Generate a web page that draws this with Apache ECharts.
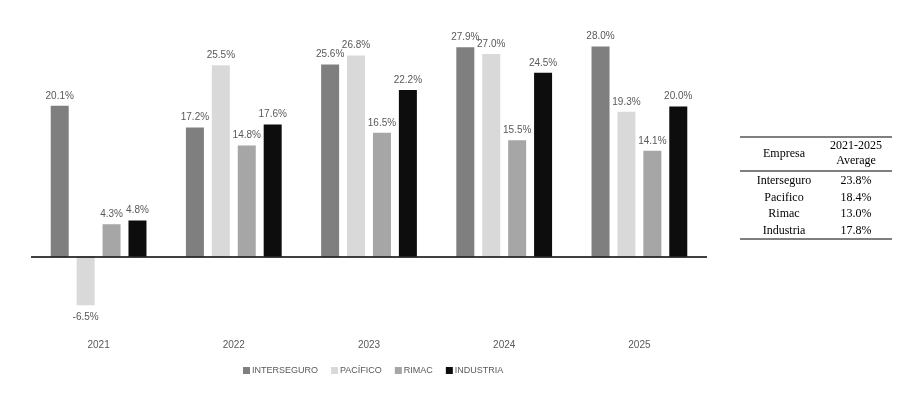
<!DOCTYPE html>
<html>
<head>
<meta charset="utf-8">
<script src="https://cdn.jsdelivr.net/npm/echarts@6/dist/echarts.min.js"></script>
<style>
  html, body { margin: 0; padding: 0; background: #fff; }
  #chart { width: 922px; height: 397px; }
</style>
</head>
<body>
<div id="chart"></div>
<script>
// datos
var years = ['2021', '2022', '2023', '2024', '2025'];
var interseguro = [20.1, 17.2, 25.6, 27.9, 28.0];
var pacifico = [-6.5, 25.5, 26.8, 27.0, 19.3];
var rimac = [4.3, 14.8, 16.5, 15.5, 14.1];
var industria = [4.8, 17.6, 22.2, 24.5, 20.0];

// tabla de promedios
var tableHead = ['Empresa', '2021-2025', 'Average'];
var empresas = ['Interseguro', 'Pacifico', 'Rimac', 'Industria'];
var promedios = ['23.8%', '18.4%', '13.0%', '17.8%'];

var chart = echarts.init(document.getElementById('chart'));

function serie(name, data, color) {
    // etiqueta abajo si el valor es negativo
    var items = data.map(function (v) {
        return v < 0 ? { value: v, label: { position: 'bottom', distance: 7 } } : v;
    });
    return {
        name: name,
        type: 'bar',
        data: items,
        barWidth: 18,
        barGap: '44%',
        itemStyle: { color: color },
        label: {
            show: true,
            position: 'top',
            distance: 5,
            color: '#595959',
            fontSize: 10,
            fontFamily: 'Liberation Sans, Arial',
            formatter: function (p) { return p.value.toFixed(1) + '%'; }
        }
    };
}

var series = [
    serie('INTERSEGURO', interseguro, '#7f7f7f'),
    serie('PACÍFICO', pacifico, '#d9d9d9'),
    serie('RIMAC', rimac, '#a6a6a6'),
    serie('INDUSTRIA', industria, '#0d0d0d')
];
// linea del cero
series[0].markLine = {
    silent: true,
    symbol: 'none',
    label: { show: false },
    lineStyle: { color: '#000', width: 1.5, type: 'solid' },
    data: [{ yAxis: 0 }]
};

// tabla a la derecha
var serif = 'Liberation Serif, Times New Roman, serif';
var tx0 = 740, tx1 = 892, c1 = 784, c2 = 856;
var graphic = [
    { type: 'line', shape: { x1: tx0, y1: 137, x2: tx1, y2: 137 }, style: { stroke: '#000', lineWidth: 1 } },
    { type: 'line', shape: { x1: tx0, y1: 171, x2: tx1, y2: 171 }, style: { stroke: '#000', lineWidth: 1 } },
    { type: 'line', shape: { x1: tx0, y1: 239, x2: tx1, y2: 239 }, style: { stroke: '#000', lineWidth: 1 } },
    { type: 'text', x: c1, y: 154, style: { text: tableHead[0], font: '12px ' + serif, fill: '#000', align: 'center', verticalAlign: 'middle' } },
    { type: 'text', x: c2, y: 146, style: { text: tableHead[1], font: '12px ' + serif, fill: '#000', align: 'center', verticalAlign: 'middle' } },
    { type: 'text', x: c2, y: 161, style: { text: tableHead[2], font: '12px ' + serif, fill: '#000', align: 'center', verticalAlign: 'middle' } }
];
for (var i = 0; i < empresas.length; i++) {
    var yy = 181 + i * 16.5;
    graphic.push({ type: 'text', x: c1, y: yy, style: { text: empresas[i], font: '12px ' + serif, fill: '#000', align: 'center', verticalAlign: 'middle' } });
    graphic.push({ type: 'text', x: c2, y: yy, style: { text: promedios[i], font: '12px ' + serif, fill: '#000', align: 'center', verticalAlign: 'middle' } });
}

chart.setOption({
    animation: false,
    backgroundColor: '#fff',
    grid: { left: 31, right: 215, top: 31.5, bottom: 65.5 },
    legend: {
        left: 238,
        top: 361,
        itemWidth: 7,
        itemHeight: 7,
        itemGap: 13,
        icon: 'rect',
        textStyle: { color: '#595959', fontSize: 9, fontFamily: 'Liberation Sans, Arial', padding: [0, 0, 0, -3] },
        data: ['INTERSEGURO', 'PACÍFICO', 'RIMAC', 'INDUSTRIA']
    },
    xAxis: {
        type: 'category',
        data: years,
        axisLine: { show: false, onZero: false },
        axisTick: { show: false },
        axisLabel: { color: '#595959', fontSize: 10, fontFamily: 'Liberation Sans, Arial', margin: 9 }
    },
    yAxis: {
        type: 'value',
        min: -10,
        max: 30,
        interval: 10,
        show: false,
        splitLine: { show: false }
    },
    series: series,
    graphic: graphic
});
</script>
</body>
</html>
